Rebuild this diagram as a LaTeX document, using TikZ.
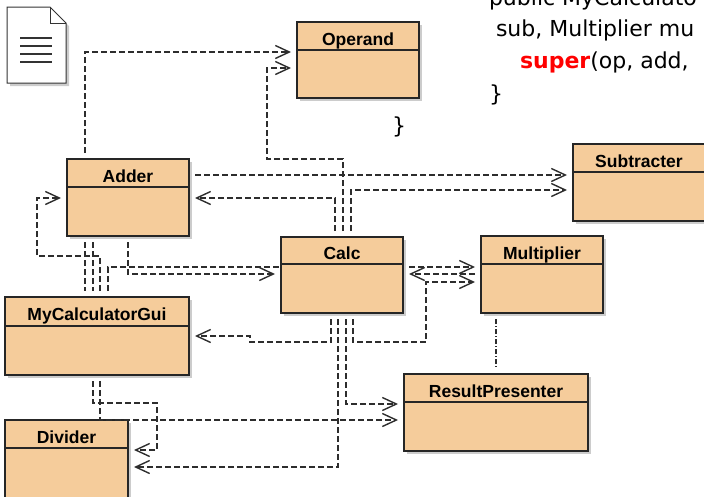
\documentclass[tikz,border=0pt]{standalone}
\usepackage{fontspec}
\setmainfont{DejaVu Sans}
\newfontfamily\classfont{Liberation Sans}
\usepackage{xcolor}
\usepackage{tikz}
\usetikzlibrary{arrows.meta,shadows}
\definecolor{classfill}{RGB}{245,204,155}
\definecolor{linegray}{RGB}{45,45,45}

\begin{document}
\begin{tikzpicture}[x=1pt,y=-1pt]
        \tikzstyle{every node}+=[inner sep=0pt, outer sep=0pt]
        \tikzstyle{classbox}=[draw=black!85, line width=1.5pt, fill=classfill, anchor=north west, drop shadow={shadow xshift=3pt, shadow yshift=-3pt, fill=black!40}]
        \tikzstyle{classtitle}=[anchor=base, font=\classfont\bfseries\fontsize{17.5}{20}\selectfont]
        \tikzstyle{classline}=[black!85, line width=1.1pt]
        \tikzstyle{dep}=[linegray, line width=1.2pt, dash pattern=on 6pt off 3pt, shorten <=6pt, shorten >=6pt, -{Straight Barb[length=14pt,width=13pt,line width=1.4pt]}]
        \tikzstyle{link}=[dep, -]
        \tikzstyle{codetext}=[anchor=base west, font=\fontsize{22}{26}\selectfont]
        \useasboundingbox (0,0) rectangle (704,496);
        \clip (0,0) rectangle (704,496);
        % page icon
        \draw [black!80, line width=1pt, fill=white, drop shadow={shadow xshift=3pt, shadow yshift=-3pt, fill=black!40}] (7,7) -- (50,7) -- (66,23) -- (66,83) -- (7,83) -- cycle;
        \draw [black!80, line width=1pt] (50,7) -- (50,23) -- (66,23);
        \draw [black!80, line width=1.2pt] (20,38) -- (52,38);
        \draw [black!80, line width=1.2pt] (20,46) -- (52,46);
        \draw [black!80, line width=1.2pt] (20,54) -- (52,54);
        \draw [black!80, line width=1.2pt] (20,62) -- (52,62);
        % code text
        \node [codetext] (code-public) at (489,5) {public MyCalculato};
        \node [codetext] (code-sub) at (496,36) {sub, Multiplier mu};
        \node [codetext] (code-super) at (520,68) {\textcolor{red}{\bfseries super}(op, add,};
        \node [codetext] (code-brace) at (489,101) {\}};
        \node [codetext] (brace) at (392,133) {\}};
        % classes
        \node [classbox, minimum width=122pt, minimum height=76pt] (operand) at (297,22) {};
        \node [classtitle] (operand-title) at (operand.north |- 0,45.5) {Operand};
        \draw [classline] (operand.north west |- 0,50) -- (operand.north east |- 0,50);
        \node [classbox, minimum width=122pt, minimum height=77pt] (adder) at (67,159) {};
        \node [classtitle] (adder-title) at (adder.north |- 0,182.5) {Adder};
        \draw [classline] (adder.north west |- 0,187) -- (adder.north east |- 0,187);
        \node [classbox, minimum width=132pt, minimum height=77pt] (subtracter) at (573,144) {};
        \node [classtitle] (subtracter-title) at (subtracter.north |- 0,167.5) {Subtracter};
        \draw [classline] (subtracter.north west |- 0,172) -- (subtracter.north east |- 0,172);
        \node [classbox, minimum width=122pt, minimum height=76pt] (calc) at (281,237) {};
        \node [classtitle] (calc-title) at (calc.north |- 0,259.5) {Calc};
        \draw [classline] (calc.north west |- 0,264) -- (calc.north east |- 0,264);
        \node [classbox, minimum width=122pt, minimum height=77pt] (multiplier) at (481,236) {};
        \node [classtitle] (multiplier-title) at (multiplier.north |- 0,259.5) {Multiplier};
        \draw [classline] (multiplier.north west |- 0,264) -- (multiplier.north east |- 0,264);
        \node [classbox, minimum width=184pt, minimum height=78pt] (gui) at (5,297) {};
        \node [classtitle] (gui-title) at (gui.north |- 0,320.5) {MyCalculatorGui};
        \draw [classline] (gui.north west |- 0,326) -- (gui.north east |- 0,326);
        \node [classbox, minimum width=184pt, minimum height=77pt] (presenter) at (404,374) {};
        \node [classtitle] (presenter-title) at (presenter.north |- 0,397.5) {ResultPresenter};
        \draw [classline] (presenter.north west |- 0,402) -- (presenter.north east |- 0,402);
        \node [classbox, minimum width=123pt, minimum height=90pt] (divider) at (5,420) {};
        \node [classtitle] (divider-title) at (divider.north |- 0,443.5) {Divider};
        \draw [classline] (divider.north west |- 0,448) -- (divider.north east |- 0,448);
        % dependencies
        \draw [dep] (adder.north -| 85,0) |- (operand.west |- 0,52);
        \draw [dep] (calc.north -| 343,0) |- (267,159) |- (operand.west |- 0,68);
        \draw [dep] (calc.north -| 335,0) |- (adder.east |- 0,198);
        \draw [dep] (calc.north -| 351,0) |- (subtracter.west |- 0,190);
        \draw [dep] (adder.east |- 0,175) -- (subtracter.west |- 0,175);
        \draw [dep] (adder.south -| 128,0) |- (calc.west |- 0,274);
        \draw [link, shorten >=0pt] (gui.north -| 108,0) |- (calc.west |- 0,267);
        \draw [dep] (gui.north -| 100,0) |- (37,256) |- (adder.west |- 0,198);
        \draw [link] (adder.south -| 85,0) -- (gui.north -| 85,0);
        \draw [link] (adder.south -| 93,0) -- (gui.north -| 93,0);
        \draw [dep] (calc.east |- 0,267) -- (multiplier.west |- 0,267);
        \draw [dep] (multiplier.west |- 0,274) -- (calc.east |- 0,274);
        \draw [dep] (calc.south -| 353,0) |- (426,342) |- (multiplier.west |- 0,282);
        \draw [dep] (calc.south -| 331,0) |- (250,342) |- (gui.east |- 0,336);
        \draw [dep] (calc.south -| 346,0) |- (presenter.west |- 0,404);
        \draw [dep] (calc.south -| 338,0) |- (divider.east |- 0,467);
        \draw [dep] (gui.south -| 100,0) |- (presenter.west |- 0,420);
        \draw [dep] (gui.south -| 93,0) |- (157,403) |- (divider.east |- 0,450);
%        \draw [dep] (multiplier.south -| 496,0) -- (presenter.north -| 496,0);
        \draw [link, dash pattern=on 5pt off 2pt on 1pt off 2pt] (multiplier.south -| 496,0) -- (presenter.north -| 496,0);
\end{tikzpicture}
\end{document}
